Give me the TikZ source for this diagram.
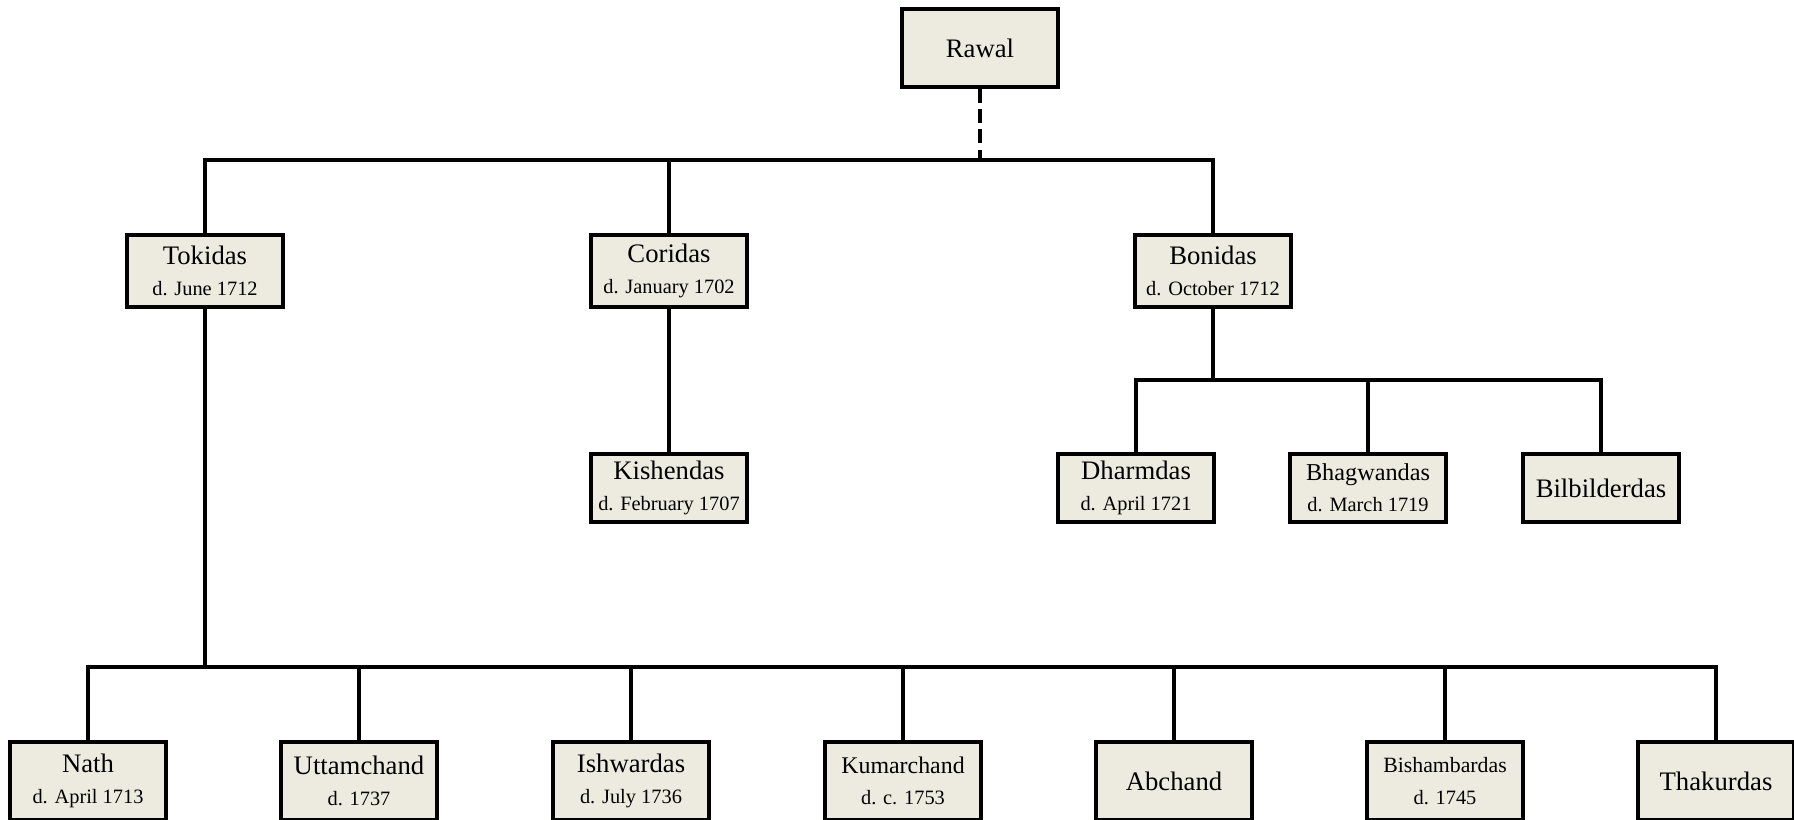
\documentclass[tikz,border=0pt]{standalone}
\usepackage{fontspec}
\setmainfont{Liberation Serif}
\usetikzlibrary{positioning}
\definecolor{boxfill}{RGB}{237,235,224}
\newcommand{\dt}[1]{{\fontsize{11.6}{14}\selectfont #1}}
\tikzset{
    person/.style={draw, fill=boxfill, line width=2.3pt, minimum width=3.12cm,
        minimum height=1.44cm, inner sep=0pt, align=center,
        font=\fontsize{15.2}{16}\selectfont},
    lowrow/.style={person, minimum height=1.36cm},
    botrow/.style={person, minimum height=1.56cm},
    link/.style={line width=2pt, line join=miter},
    linkdash/.style={link, dash pattern=on 8pt off 3.5pt}
}

\begin{document}
\begin{tikzpicture}[x=0.02cm, y=-0.02cm]
    \useasboundingbox (0, 0) rectangle (1794, 819);

    % top
    \node[person, minimum height=1.56cm] (rawal) at (980, 48) {Rawal};

    % sons of Rawal
    \node[person] (tokidas) at (205, 271) {Tokidas\\[1.5pt]\dt{d. June 1712}};
    \node[person] (coridas) at (669, 271) {Coridas\\[1.5pt]\dt{d. January 1702}};
    \node[person] (bonidas) at (1213, 271) {Bonidas\\[1.5pt]\dt{d. October 1712}};

    % middle row
    \node[lowrow] (kishendas) at (669, 488) {Kishendas\\[1.5pt]\dt{d. February 1707}};
    \node[lowrow] (dharmdas) at (1136, 488) {Dharmdas\\[1.5pt]\dt{d. April 1721}};
    \node[lowrow, font=\fontsize{13.8}{16}\selectfont] (bhagwandas) at (1368, 488) {Bhagwandas\\[1.5pt]\dt{d. March 1719}};
    \node[lowrow] (bilbilderdas) at (1601, 488) {Bilbilderdas};

    % sons of Tokidas
    \node[botrow] (nath) at (88, 781) {Nath\\[1.5pt]\dt{d. April 1713}};
    \node[botrow] (uttamchand) at (359, 781) {Uttamchand\\[1.5pt]\dt{d. 1737}};
    \node[botrow] (ishwardas) at (631, 781) {Ishwardas\\[1.5pt]\dt{d. July 1736}};
    \node[botrow, font=\fontsize{13.6}{16}\selectfont] (kumarchand) at (903, 781) {Kumarchand\\[1.5pt]\dt{d. c. 1753}};
    \node[botrow] (abchand) at (1174, 781) {Abchand};
    \node[botrow, font=\fontsize{12.4}{16}\selectfont] (bishambardas) at (1445, 781) {Bishambardas\\[2pt]\dt{d. 1745}};
    \node[botrow] (thakurdas) at (1716, 781) {Thakurdas};

    % bars
    \coordinate (topbar) at (980, 160);
    \coordinate (bonbar) at (1213, 380);
    \coordinate (botbar) at (205, 667);

    \draw[linkdash] (rawal.south) -- (rawal.south |- topbar);
    \draw[link] (tokidas.north) |- (topbar) -| (bonidas.north);
    \draw[link] (coridas.north) -- (coridas.north |- topbar);
    \draw[link] (coridas.south) -- (kishendas.north);

    \draw[link] (bonidas.south) -- (bonidas.south |- bonbar);
    \draw[link] (dharmdas.north) |- (bonbar) -| (bilbilderdas.north);
    \draw[link] (bhagwandas.north) -- (bhagwandas.north |- bonbar);

    \draw[link] (tokidas.south) -- (tokidas.south |- botbar);
    \draw[link] (nath.north) |- (botbar) -| (thakurdas.north);
    \foreach \n in {uttamchand, ishwardas, kumarchand, abchand, bishambardas}
        \draw[link] (\n.north) -- (\n.north |- botbar);
\end{tikzpicture}
\end{document}
